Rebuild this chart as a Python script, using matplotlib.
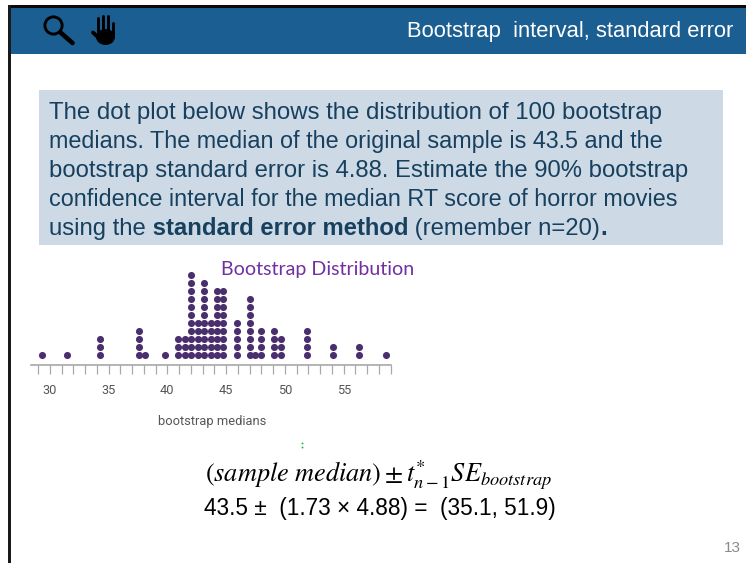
import numpy as np
import matplotlib
matplotlib.use('Agg')
import matplotlib.pyplot as plt
from matplotlib.patches import Rectangle, Circle, Ellipse

plt.rcParams['font.family'] = ['Liberation Sans', 'DejaVu Sans']
plt.rcParams['mathtext.fontset'] = 'stix'

# dot plot data: bootstrap medians and how many dots are stacked at each one
medians = [29.3, 31.5, 34.3, 37.6, 38.1, 39.8, 40.9, 41.5, 42.0, 42.6, 43.1, 43.7,
           44.2, 44.7, 45.9, 47.0, 47.5, 48.0, 49.1, 49.7, 51.9, 54.1, 56.3, 58.6]
counts = [1, 1, 3, 4, 1, 1, 3, 3, 11, 5, 10, 5, 9, 9, 5, 8, 1, 4, 4, 3, 4, 2, 2, 1]
tick_labels = [30, 35, 40, 45, 50, 55]

header_title = 'Bootstrap  interval, standard error'
body_lines = ['The dot plot below shows the distribution of 100 bootstrap',
              'medians. The median of the original sample is 43.5 and the',
              'bootstrap standard error is 4.88. Estimate the 90% bootstrap',
              'confidence interval for the median RT score of horror movies']
W, H = 746, 563
BODY_SIZE = 17.2
BODY_COLOR = '#17405F'
# the original is set a little tighter on some lines
line_sizes = [17.3, 16.87, 17.22, 16.85]

fig = plt.figure(figsize=(W / 100, H / 100), dpi=100, facecolor='white')

# slide background, in pixels
bg = fig.add_axes([0, 0, 1, 1])
bg.set_xlim(0, W)
bg.set_ylim(H, 0)
bg.axis('off')
bg.add_patch(Rectangle((8, 7), W - 8, 47, fc='#1B5E91', ec='none'))
bg.add_patch(Rectangle((8, 5), W - 8, 3, fc='#0a0a0a', ec='none'))
bg.add_patch(Rectangle((8, 5), 3, H - 5, fc='#1a1a1a', ec='none'))
bg.add_patch(Rectangle((39, 90), 684, 155, fc='#CDDAE5', ec='none'))

# magnifier icon
bg.add_patch(Circle((53.5, 25.5), 8.6, fc='none', ec='black', lw=2.1))
bg.plot([60.5, 72.5], [32.5, 43], color='black', lw=3.3, solid_capstyle='round')

# hand icon
for fx, top, bottom in [(98, 18, 34), (103, 15.5, 34), (108, 16, 34), (113, 23, 36)]:
    bg.plot([fx, fx], [top, bottom], color='black', lw=2.1, solid_capstyle='round')
bg.add_patch(Ellipse((105.5, 37), 19, 16, fc='black', ec='none'))
bg.plot([93, 101], [32.5, 40], color='black', lw=2.8, solid_capstyle='round')

bg.text(733, 32, header_title, color='white', fontsize=15.8, ha='right', va='center')

for i, line in enumerate(body_lines):
    bg.text(49, 118.5 + i * 29.1, line, color=BODY_COLOR, fontsize=line_sizes[i], va='baseline')
t1 = bg.text(49, 234.9, 'using the', color=BODY_COLOR, fontsize=BODY_SIZE, va='baseline')
t2 = bg.annotate(' standard error method', xy=(1, 0), xycoords=t1, va='bottom',
                 color=BODY_COLOR, fontsize=BODY_SIZE, fontweight='bold')
t3 = bg.annotate(' (remember n=20)', xy=(1, 0), xycoords=t2, va='bottom',
                 color=BODY_COLOR, fontsize=BODY_SIZE)
bg.annotate('.', xy=(1, 0), xycoords=t3, va='bottom', color=BODY_COLOR,
            fontsize=BODY_SIZE, fontweight='bold')

bg.text(221, 269, 'Bootstrap Distribution', color='#7030A0', fontsize=14.1,
        family=['Lato', 'DejaVu Sans'], va='center')

# dot plot axes: 29..59 maps to 38..390.7 px, row step is 8 px
px_per_unit = (390.7 - 38) / 30
ax_l, ax_r = 31, 391.5
ax_top, ax_bottom = 264, 364.5
ax = fig.add_axes([ax_l / W, 1 - ax_bottom / H, (ax_r - ax_l) / W, (ax_bottom - ax_top) / H])
ax.set_xlim(29 + (ax_l - 38) / px_per_unit, 29 + (ax_r - 38) / px_per_unit)
ax.set_ylim(-1.225, (ax_bottom - ax_top) / 8 - 1.225)
for m, c in zip(medians, counts):
    ax.scatter([m] * c, np.arange(c), s=26, color='#4B2E6E', linewidths=0, zorder=3)
for s in ['top', 'left', 'right']:
    ax.spines[s].set_visible(False)
ax.patch.set_alpha(0)
ax.spines['bottom'].set_color('#a8a8a8')
ax.spines['bottom'].set_linewidth(1.2)
ax.set_yticks([])
ax.set_xticks(np.arange(29, 60))
ax.set_xticklabels([str(v) if v in tick_labels else '' for v in range(29, 60)],
                   fontsize=9.2, color='#555555', family=['Roboto', 'DejaVu Sans'])
ax.tick_params(axis='x', length=6.5, width=0.9, color='#a8a8a8', pad=7.5)
bg.text(212, 422, 'bootstrap medians', color='#555555', fontsize=9.3,
        family=['Roboto', 'DejaVu Sans'], ha='center', va='center')

# stray green marks under the plot
bg.plot([302.3, 302.3], [443.3, 447.3], ls='none', marker='o', ms=1.4, mew=0, color='#1DB954')

# formula
bg.text(379, 475, r'$(sample\ median)\pm t^{*}_{n-1}SE_{bootstrap}$', color='black',
        fontsize=18.9, ha='center', va='center')
bg.text(379.5, 508, '43.5 \u00b1  (1.73 \u00d7 4.88) =  (35.1, 51.9)', color='black',
        fontsize=16.3, ha='center', va='center')

bg.text(732, 548, '13', color='#8a8a8a', fontsize=11, ha='center', va='center')

fig.savefig('out.png', dpi=100)
